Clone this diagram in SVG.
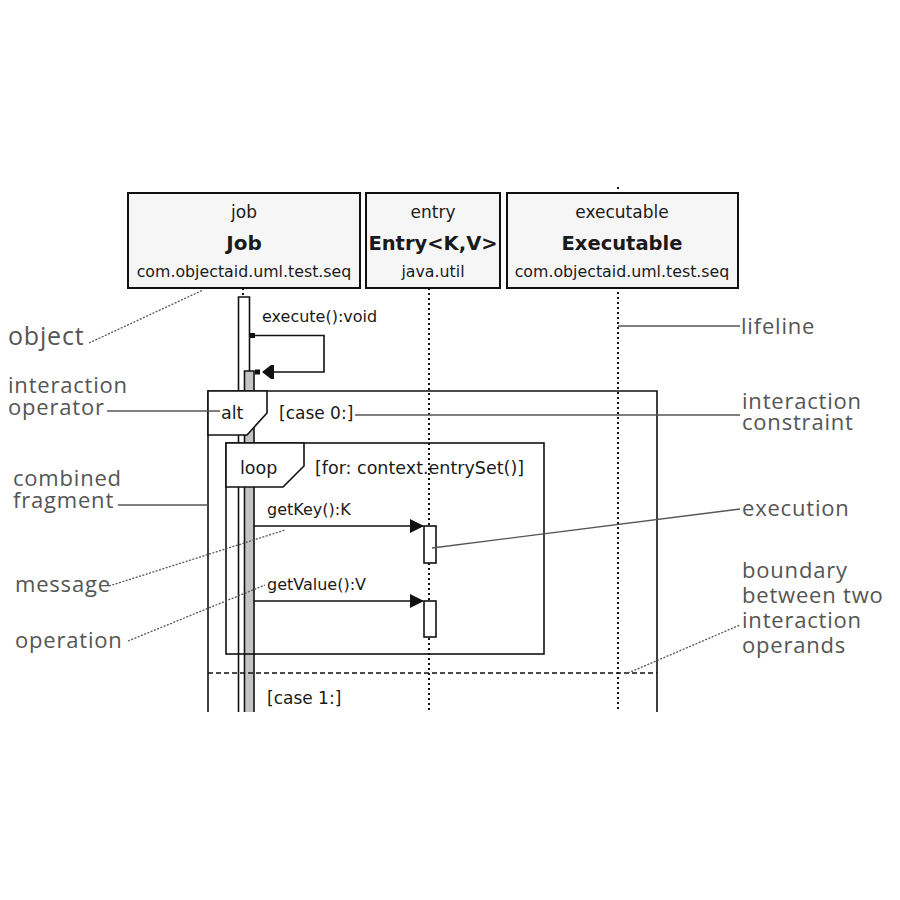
<svg xmlns="http://www.w3.org/2000/svg" width="900" height="900" viewBox="0 0 900 900">
<style>
.box{fill:#f6f6f6;stroke:#111;stroke-width:2}
.t{font-family:"DejaVu Sans",sans-serif;fill:#1a1a1a}
.c{text-anchor:middle}
.life{stroke:#111;stroke-width:2;stroke-dasharray:2,3;fill:none}
.frag{fill:none;stroke:#111;stroke-width:1.6}
.lab{fill:#fff;stroke:#111;stroke-width:1.6}
.msg{stroke:#111;stroke-width:1.6;fill:none}
.edge{stroke:#111;stroke-width:1.6;fill:none}
.ann{font-family:"Open Sans",sans-serif;font-size:22px;fill:#555;letter-spacing:0.8px}
.lead{stroke:#555;stroke-width:1.3;fill:none}
.dot{stroke:#555;stroke-width:1.3;fill:none;stroke-dasharray:2,1.5}
</style>
<defs>
<marker id="arr" viewBox="0 0 14 14" refX="13" refY="7" markerWidth="14" markerHeight="14" markerUnits="userSpaceOnUse" orient="auto">
<path d="M0,0 L14,7 L0,14 Z" fill="#111"/>
</marker>
</defs>
<rect width="900" height="900" fill="#fff"/>

<g id="lifelines">
<line class="life" x1="243" y1="288" x2="243" y2="297"/>
<line class="life" x1="429" y1="288" x2="429" y2="712"/>
<line class="life" x1="618" y1="187" x2="618" y2="712"/>
</g>

<g id="node-job">
<rect class="box" x="128" y="193" width="232" height="95"/>
<text class="t c" x="244" y="218" font-size="17">job</text>
<text class="t c" x="244" y="250" font-size="20" font-weight="bold">Job</text>
<text class="t c" x="244" y="277" font-size="15.8">com.objectaid.uml.test.seq</text>
</g>
<g id="node-entry">
<rect class="box" x="366" y="193" width="134" height="95"/>
<text class="t c" x="433" y="218" font-size="17">entry</text>
<text class="t c" x="433" y="250" font-size="19.5" font-weight="bold">Entry&lt;K,V&gt;</text>
<text class="t c" x="433" y="277" font-size="15.8">java.util</text>
</g>
<g id="node-executable">
<rect class="box" x="507" y="193" width="231" height="95"/>
<text class="t c" x="622" y="218" font-size="17">executable</text>
<text class="t c" x="622" y="250" font-size="19.5" font-weight="bold">Executable</text>
<text class="t c" x="622" y="277" font-size="15.8">com.objectaid.uml.test.seq</text>
</g>

<g id="activations">
<rect x="238.5" y="297" width="11" height="415" fill="#fff"/>
<path class="edge" d="M238.5,712 V297 H249.5 V712"/>
<rect x="244.5" y="371" width="9.5" height="341" fill="#c4c4c4"/>
<path class="edge" d="M244.5,712 V371 H254 V712"/>
<rect x="424" y="526" width="12" height="37" fill="#fff" stroke="#111" stroke-width="1.6"/>
<rect x="424" y="601" width="12" height="36" fill="#fff" stroke="#111" stroke-width="1.6"/>
</g>

<g id="fragment-alt">
<path class="frag" d="M208,712 V391 H657 V712"/>
<path class="lab" d="M208,391 H267 V413 L247,435 H208 Z"/>
<text class="t" x="221" y="419" font-size="17.5">alt</text>
<text class="t" x="279" y="419" font-size="17">[case 0:]</text>
<line x1="208" y1="673" x2="657" y2="673" stroke="#111" stroke-width="1.6" stroke-dasharray="5,3"/>
<text class="t" x="267" y="704" font-size="17">[case 1:]</text>
</g>

<g id="fragment-loop">
<rect class="frag" x="226" y="443" width="318" height="211"/>
<path class="lab" d="M226,443 H304 V466 L283,487 H226 Z"/>
<text class="t" x="240" y="474" font-size="17.5">loop</text>
<text class="t" x="315" y="474" font-size="17.5">[for: context.entrySet()]</text>
</g>

<g id="connectors">
<text class="t" x="262" y="322" font-size="16">execute():void</text>
<rect x="250" y="333" width="5" height="5" fill="#111"/>
<path class="msg" d="M255,335.5 H324 V372 H272"/>
<path d="M262,372 L271,365 H274 V379 H271 Z" fill="#111"/>
<rect x="255" y="369.5" width="5" height="5" fill="#111"/>
<text class="t" x="267" y="515" font-size="16">getKey():K</text>
<line class="msg" x1="254" y1="526" x2="423" y2="526" marker-end="url(#arr)"/>
<text class="t" x="267" y="590" font-size="16">getValue():V</text>
<line class="msg" x1="254" y1="601" x2="423" y2="601" marker-end="url(#arr)"/>
</g>

<g id="annotations">
<text class="ann" x="8" y="345" style="font-size:25px">object</text>
<line class="dot" x1="89" y1="343" x2="203" y2="290"/>
<text class="ann" x="8" y="393">interaction<tspan x="8" dy="22">operator</tspan></text>
<line class="lead" x1="107" y1="411" x2="220" y2="411"/>
<text class="ann" x="13" y="486">combined<tspan x="13" dy="22">fragment</tspan></text>
<line class="lead" x1="118" y1="505" x2="208" y2="505"/>
<text class="ann" x="15" y="592">message</text>
<line class="dot" x1="109" y1="586" x2="285" y2="530"/>
<text class="ann" x="15" y="648">operation</text>
<line class="dot" x1="128" y1="641" x2="265" y2="585"/>
<text class="ann" x="741" y="334">lifeline</text>
<line class="lead" x1="618" y1="326" x2="740" y2="326"/>
<text class="ann" x="742" y="409">interaction<tspan x="742" dy="21">constraint</tspan></text>
<line class="lead" x1="355" y1="415" x2="740" y2="415"/>
<text class="ann" x="742" y="516">execution</text>
<line class="lead" x1="432" y1="548" x2="740" y2="509"/>
<text class="ann" x="742" y="578">boundary<tspan x="742" dy="25">between two</tspan><tspan x="742" dy="25">interaction</tspan><tspan x="742" dy="25">operands</tspan></text>
<line class="dot" x1="628" y1="673" x2="740" y2="625"/>
</g>
</svg>
